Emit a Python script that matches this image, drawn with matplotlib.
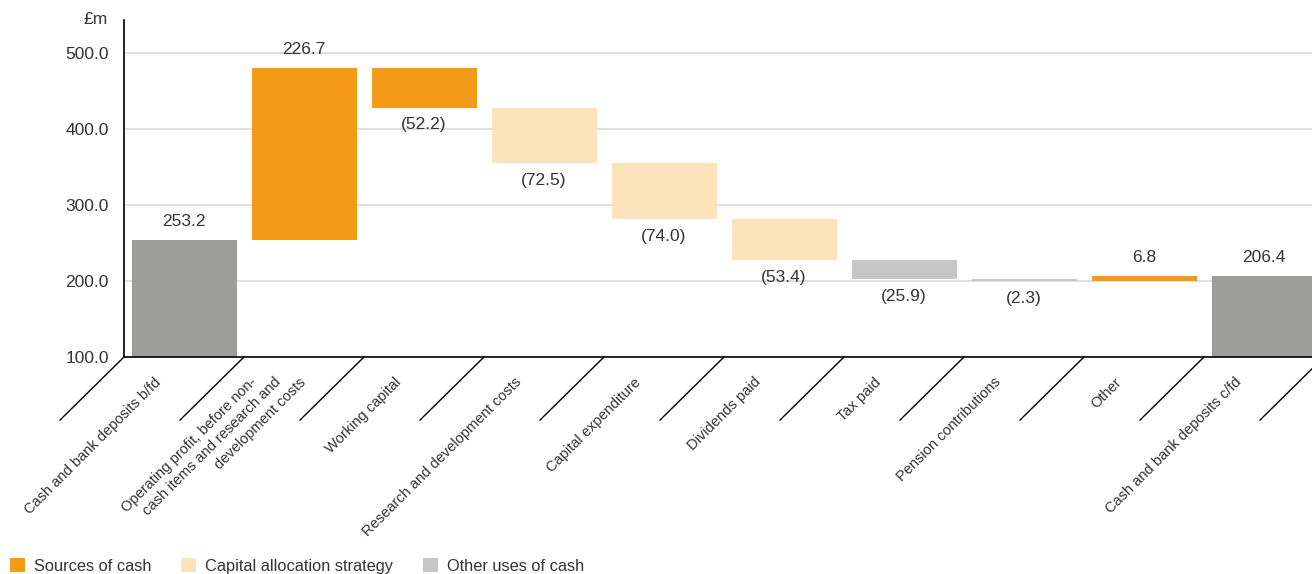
import matplotlib
matplotlib.use("Agg")
import matplotlib.pyplot as plt
from matplotlib.patches import Patch
from matplotlib.transforms import blended_transform_factory, ScaledTranslation

plt.rcParams['font.family'] = ['Liberation Sans', 'DejaVu Sans']

# waterfall data (£m)
categories = [
    "Cash and bank deposits b/fd",
    "Operating profit, before non-\ncash items and research and\ndevelopment costs",
    "Working capital",
    "Research and development costs",
    "Capital expenditure",
    "Dividends paid",
    "Tax paid",
    "Pension contributions",
    "Other",
    "Cash and bank deposits c/fd",
]
values = [253.2, 226.7, -52.2, -72.5, -74.0, -53.4, -25.9, -2.3, 6.8, 206.4]
kinds = ["total", "source", "source", "capital", "capital", "capital",
         "other", "other", "source", "total"]

colors = {
    "total": "#9d9d9c",
    "source": "#f39a17",
    "capital": "#fde3bc",
    "other": "#c6c6c6",
}
legend_items = [("source", "Sources of cash"),
                ("capital", "Capital allocation strategy"),
                ("other", "Other uses of cash")]
text_col = "#333333"

fig = plt.figure(figsize=(13.12, 5.74), dpi=100)
ax = fig.add_axes([124 / 1312, 1 - 357 / 574, 1200 / 1312, 337 / 574])

# bar bottoms/heights
running = 0.0
bottoms, heights = [], []
for v, k in zip(values, kinds):
    if k == "total":
        bottoms.append(0.0)
        heights.append(v)
        running = v
    else:
        bottoms.append(min(running, running + v))
        heights.append(abs(v))
        running += v

x = list(range(len(values)))
ax.bar(x, heights, bottom=bottoms, width=0.875,
       color=[colors[k] for k in kinds], zorder=2)

# value labels
for i, (v, b, h) in enumerate(zip(values, bottoms, heights)):
    if v >= 0:
        ax.annotate(f"{v:.1f}", (i, b + h), xytext=(0, 8), textcoords="offset points",
                    ha="center", va="bottom", fontsize=12.5, color=text_col)
    else:
        ax.annotate(f"({abs(v):.1f})", (i, b), xytext=(0, -7), textcoords="offset points",
                    ha="center", va="top", fontsize=12.5, color=text_col)

ax.set_xlim(-0.5, len(values) - 0.5)
ax.set_ylim(100, 543)
ax.set_yticks([100, 200, 300, 400, 500])
ax.yaxis.set_major_formatter(matplotlib.ticker.FormatStrFormatter("%.1f"))
ax.tick_params(axis="y", length=0, pad=11, labelsize=12.5, labelcolor=text_col)
ax.set_xticks([])
for gy in [200, 300, 400, 500]:
    ax.axhline(gy, color="#d9d9d9", lw=1.2, zorder=1)

for s in ["top", "right"]:
    ax.spines[s].set_visible(False)
ax.spines["left"].set_color("black")
ax.spines["bottom"].set_color("black")
ax.spines["left"].set_linewidth(1.2)
ax.spines["bottom"].set_linewidth(1.2)

ax.text(-0.0135, 1.0, "£m", transform=ax.transAxes, ha="right", va="center",
        fontsize=12.5, color=text_col)

# diagonal separators below the axis
base = blended_transform_factory(ax.transData, ax.transAxes)
for k in range(len(values) + 1):
    bx = k - 0.5
    ax.plot([bx, bx - 0.533], [0, -0.187], transform=base, color="black",
            lw=1.0, clip_on=False)

# rotated category labels, each line shifted along the axis
for i, lab in enumerate(categories):
    lines = lab.split("\n")
    n = len(lines)
    for j, line in enumerate(lines):
        dx = -0.25 + (j - (n - 1) / 2) * 0.25
        tr = base + ScaledTranslation(dx, -0.23, fig.dpi_scale_trans)
        ax.text(i, 0, line, transform=tr, rotation=45, rotation_mode="anchor",
                ha="right", va="center", fontsize=10.5, color=text_col)

handles = [Patch(facecolor=colors[k], edgecolor="none", label=t) for k, t in legend_items]
fig.legend(handles=handles, loc="center left", bbox_to_anchor=(10 / 1312, 1 - 566 / 574),
           ncol=3, frameon=False, fontsize=11.75, handlelength=0.9, handleheight=0.9,
           handletextpad=0.55, columnspacing=1.85, borderaxespad=0, borderpad=0,
           labelcolor=text_col)

fig.savefig("out.png", dpi=100)
